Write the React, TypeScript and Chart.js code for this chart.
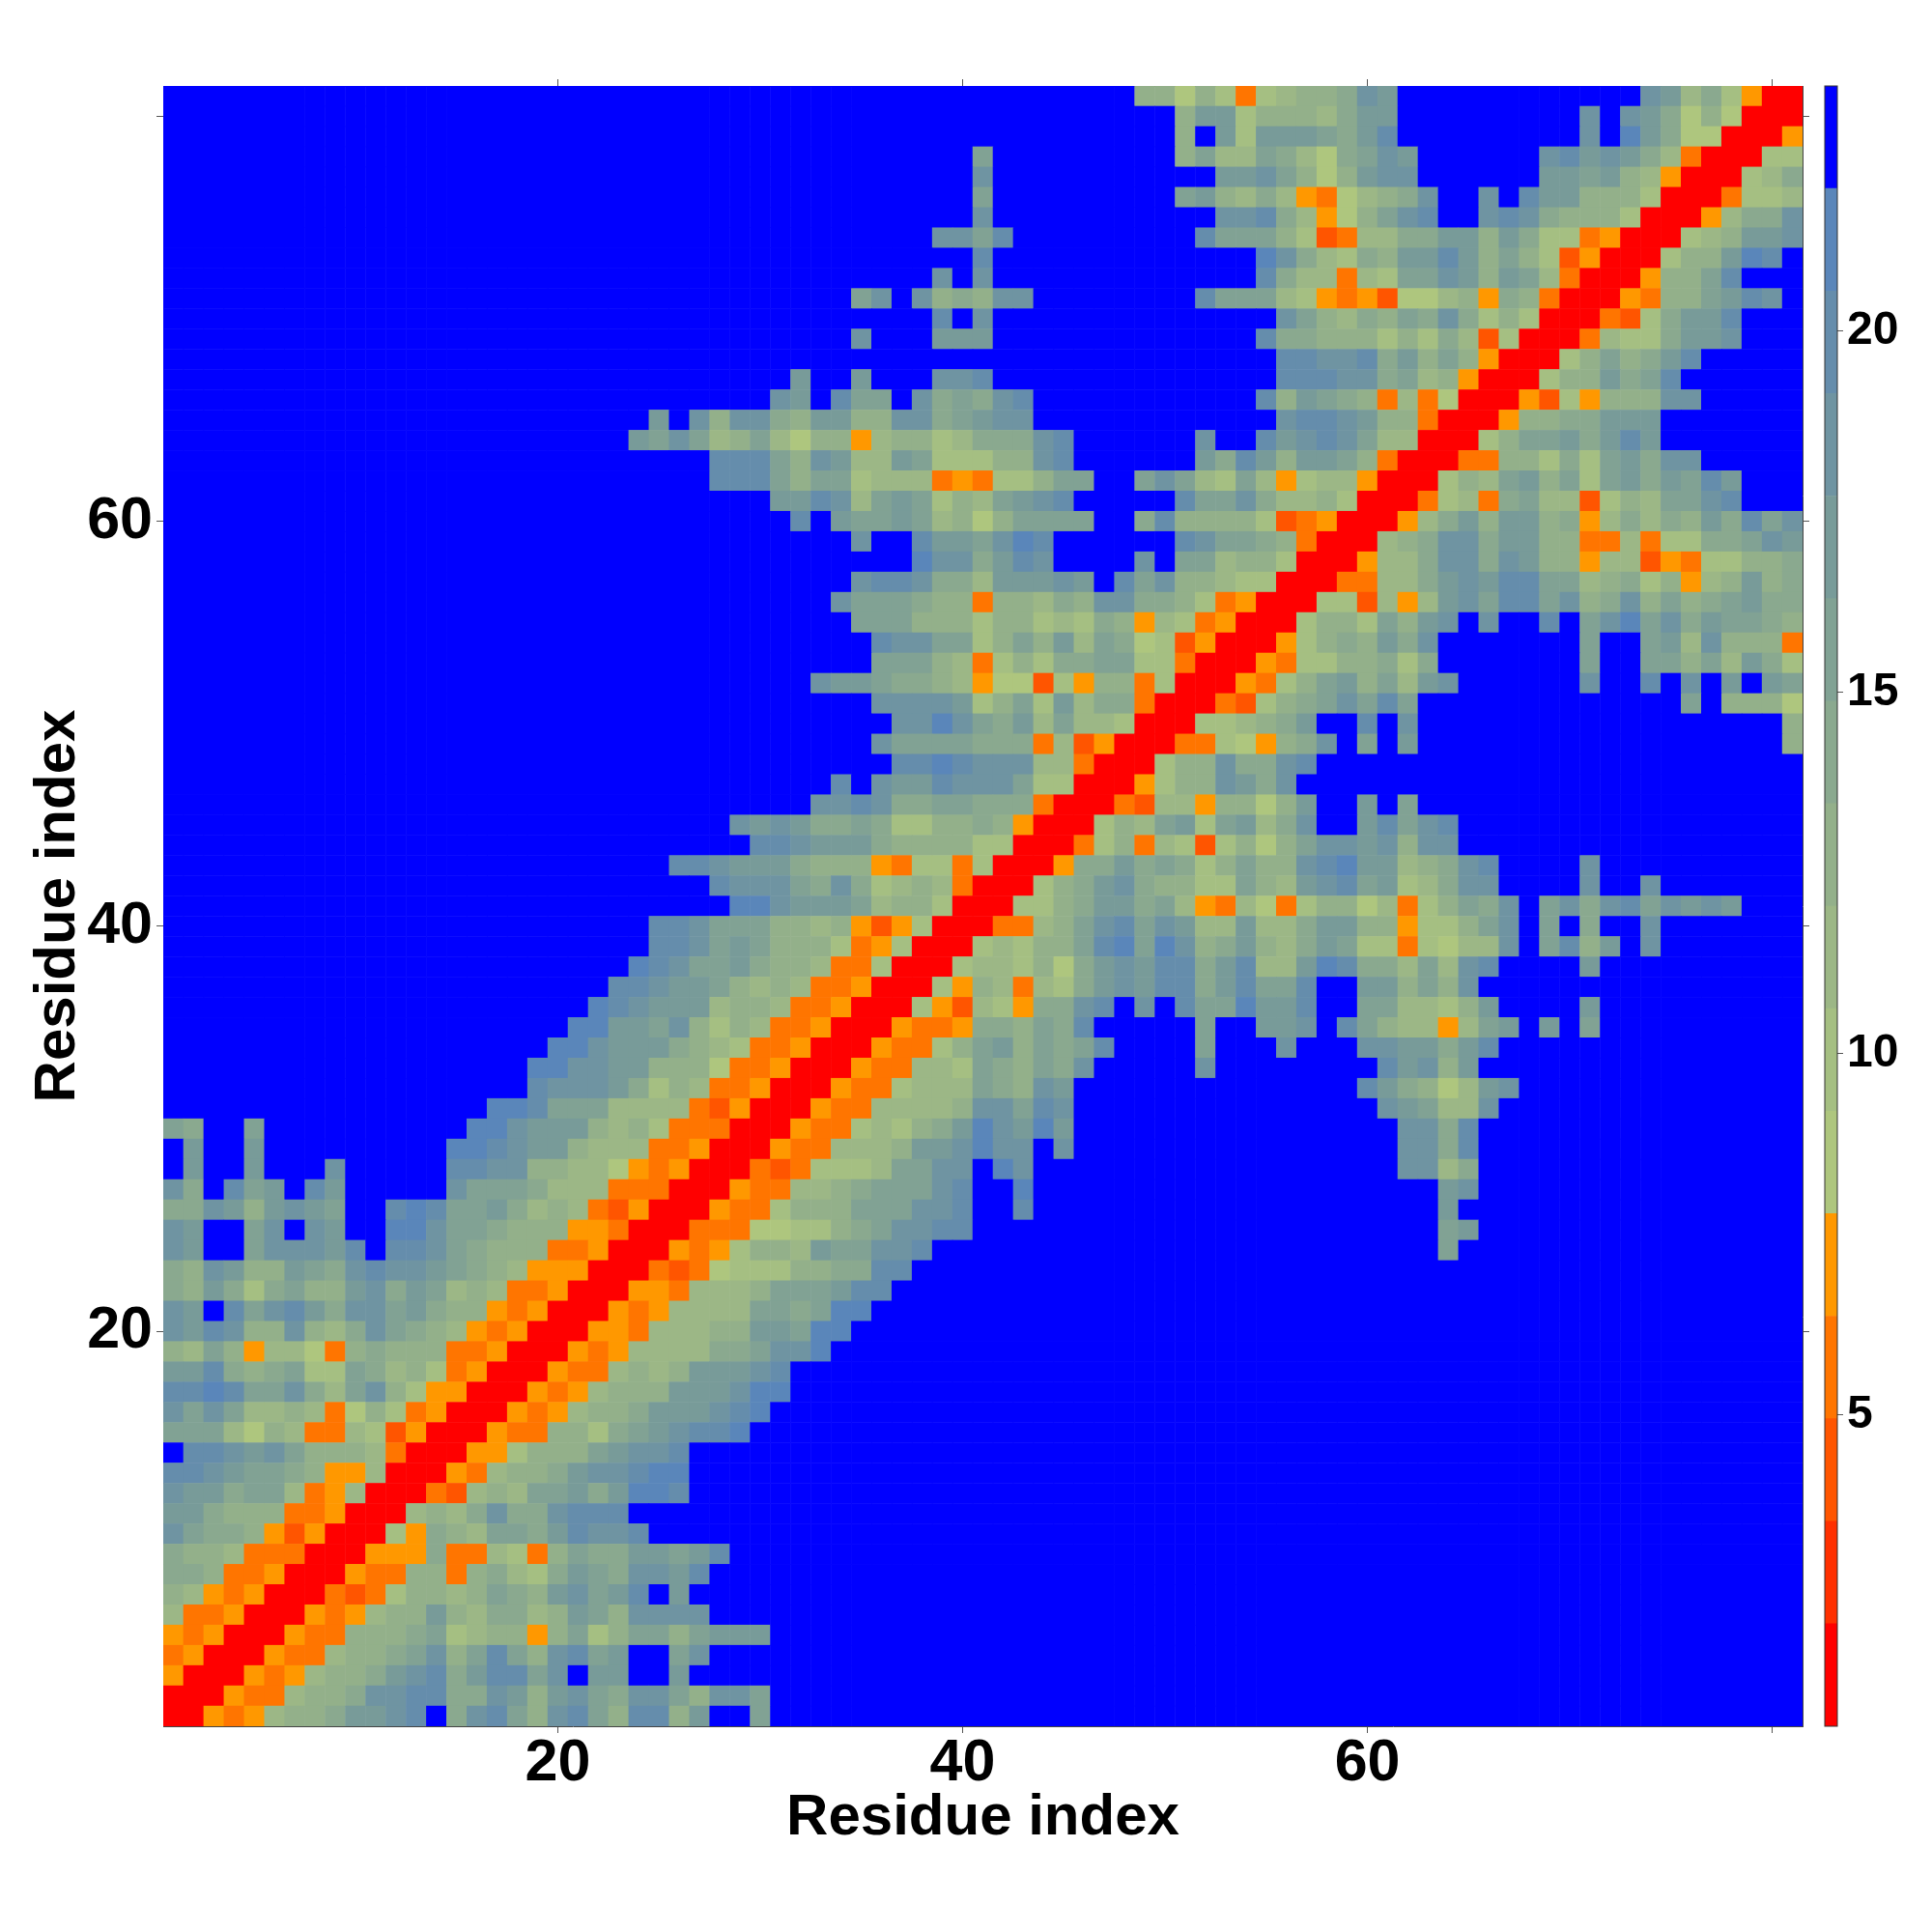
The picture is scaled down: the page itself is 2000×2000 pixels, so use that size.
import React, { useEffect, useRef } from "react";
import { Chart, registerables } from "chart.js";

Chart.register(...registerables);

// Heat-map rows from residue 81 (top) down to residue 1 (bottom).
// Each segment is "firstColumn:levels"; every column not listed is the top (blue) level.
const residueRows: string[] = [
  "49:88586367889cb 74:cb796400",
  "51:8bb688879bb 71:c 73:cb9585000",
  "51:8 53:b6bbba9bd 71:c 73:eb9550004",
  "41:a 51:8a77a9759acb 69:cdbcb97300066",
  "41:c 53:bbca858bcc 69:bbab874000679",
  "41:a 51:ab8797435789c 66:c 68:dbb88860003667",
  "41:c 53:ccd97458acd 66:cdc988860004799c",
  "39:ccad 52:daaa86237799bb8b96634000678bbc",
  "41:d 55:ec97698bbdb8a8624000688bed",
  "39:c 41:c 55:d977376aacb8ba73000488ad",
  "35:ac 38:c898cc 52:daaa764342557849830004388abdc",
  "39:d 41:c 56:ca8798a9c96860003269bbd",
  "35:c 39:bbb 55:d99888686972600037669bbc",
  "56:ddccd9b8a8400068a89bd",
  "32:b 35:b 39:ccd 56:dddcc9a784000688b9ad",
  "31:cb 34:daa 38:c9a9cd 55:d8ba9837350004264888cc",
  "25:b 27:c8cc98bb88cc9abcc 56:cddcb88300048899bbb",
  "24:baca78a7588478867999cd 52:c 55:dbcdca7700068aab9bdb",
  "28:ddda8cb77ba66688cd 52:b9db8bba830003388696ab9cc",
  "28:ddda8aa6777343668aa 49:aca76a746774000687ab8a6ab9badb",
  "31:bbdc7aba687abcd 51:daac9778600036739a772687aacd",
  "32:d 34:baaba7858aaaa 49:9d88886234000479b8bb89479798b9dac",
  "35:c 38:dbbaced 51:dcaa983000789cc9bb8833736699acbd",
  "38:ecc9bdc 49:c 51:aa78860004779cc9cb8847724366889",
  "35:cddc997bbbcb 48:dac8876600033779bcbddaa78968478b89",
  "34:caaa988388798cc998634000662747bcaddac89c8a89ab99",
  "35:aaa88868867698476340006886a8bc 66:c 69:d 71:aceac9baa98",
  "36:dccaa68a8b7a9562400046898b9c 71:a 74:ab7c8883",
  "36:aaa87368699aa663000436688969 71:a 74:aa8a7b96",
  "33:cbba998745526488360004368ab8a7bc 71:c 74:d 76:c 78:b 80:ba",
  "36:ccccb68a6b799300032689acada 76:a 78:8885",
  "37:cceca9b7a77600066789b 60:d 62:c 81:8",
  "36:caaaa99937240003365489c 60:a 62:b 81:8",
  "37:ddedccc773000688c99cd",
  "34:d 36:cbbdccca660004688cb9c",
  "33:ccdc99aa9993000327748858b 60:b 62:a",
  "29:cbcb99a96688984000687ab6ab79c 60:bdacd",
  "30:ddcbbb988886600036837626858accbc8cc",
  "26:ddcbbb9888436636000499b9a968a88cdebb789cd 71:c",
  "28:dccca9c967873000689bc98866a87bcdab679cc 71:c 74:c",
  "29:eecbbba78860006689bb9a74375368857368a9c 69:ac9cdacbcb",
  "25:ddcaaa887842460003378acdacb77b779bb884668ac 69:a 71:9 74:c",
  "25:ddcaba888634600067688adeaec89b879ba6636577c 69:ad8b 74:c",
  "24:edcaab98873360006776859bcbdd9bd77bed997a7cd 71:b",
  "23:ddcbba878733400064873769bcbdd9bdaad 60:bb8a8c",
  "22:edcbbb788733400064276499cd 49:c 51:daaebbd 60:aa7768b 71:b",
  "21:eebbac86873340004334998a9d 52:a 55:bbc 59:da87747ab 69:b 71:a",
  "20:eecbbb987633400043368ab8a9ad 52:a 56:c 60:ccbb9bd",
  "19:eeccbb8885334000433776a98a9c 52:c 61:dbc8b",
  "19:dcccb96873340004336777a98cb 60:db9857bc",
  "17:eedaaa777732400043377778ccadc 61:cba77c",
  "1:a9 5:a 16:eecbbb878633300043367689becbeb 62:cc9d",
  "2:b 5:b 15:eedcbb87773340004337778bbcecc 45:c 62:cc9d",
  "2:b 5:b 9:c 15:ddcc887754340003236667aacc 42:ec 62:cc79",
  "1:c9 4:dab 8:db 15:caaa97773330004337789aaacd 43:e 64:bc",
  "1:99cb8bcba 12:dedaab97873240004336888aaaccd 43:d 64:b",
  "1:cb 5:ac 8:cb 12:eecaa9888443000333556689accdd 64:ab",
  "1:cb 5:acccbd 12:ddca98883340004346887baaccd 64:a",
  "1:98cb88ba9cdccba98744400032356668899dd",
  "1:98b969a88bc9ba7873340004437778aaabdd",
  "1:cb 4:dacdb9ccab9884340004347777aa9aee",
  "1:cbdc88c879ca98743400044377788bbaee",
  "1:87a84775389888334000434777799acce",
  "1:bbd989a66a9786340004337878bbbcd",
  "1:ddedaac97ac86440004347888bbbcee",
  "1:caca77873586340004347889bbbcde",
  "1:aaa75873376240004338869abcdde",
  "2:ddcbca88873000446888abccd",
  "1:ddcbaa98447000437889bccdee",
  "1:cbb9aa734700032787aab9beed",
  "1:bb98883340007879c99cddd",
  "1:ca99842400064987aa9bdccd",
  "1:98873330004449337638a99bbabd",
  "1:99833400043388389769ba9ccbd",
  "1:8743400032368878a98bcabd 26:b",
  "1:7334000434788b879978ba8cccc",
  "1:4340004338889a678848a68aa8abbb",
  "1:340004337889ac8ada8cdab 26:ac",
  "1:40004347889bcd9bddac 22:bb 26:b",
  "1:0004337889ccdd99cb8bca9cca8cca",
  "1:004347889bbcd 15:9cda8cda8dd8b 30:a",
];

// Colour per level, from the lowest (red) to the highest (blue).
const levelColors: string[] = [
  "#FF0000", "#FF3000", "#FF5500", "#FF7500", "#FF9800",
  "#AEC67E", "#A5BF82", "#9CB786", "#93B08A", "#8AA98F",
  "#81A294", "#789B99", "#6F94A2", "#658DAC", "#5A86BA", "#0000FF",
];

// Colour-bar band edges and axis ticks.
const barEdges: number[] = [0.695, 2.114, 3.533, 4.951, 6.37, 7.789, 9.208, 10.626, 12.045, 13.464, 14.883, 16.301, 17.72, 19.139, 20.558, 21.976, 23.395];
const barTicks: number[] = [5, 10, 15, 20];
const axisTicks: number[] = [20, 40, 60, 80];
const axisLabels: number[] = [20, 40, 60];
const axisTitle = "Residue index";
const FONT = "'Liberation Sans', Arial, sans-serif";

function parseCells() {
  const cells: { x: number; y: number; v: number }[] = [];
  residueRows.forEach((row, k) => {
    const levels = new Array(82).fill(15);
    row.split(" ").forEach((seg) => {
      const parts = seg.split(":");
      if (parts.length !== 2) return;
      const start = Number(parts[0]);
      [...parts[1]].forEach((ch, i) => {
        const v = parseInt(ch, 16);
        if (start + i <= 81 && !Number.isNaN(v)) levels[start + i] = v;
      });
    });
    for (let c = 1; c <= 81; c++) cells.push({ x: c, y: 81 - k, v: levels[c] });
  });
  return cells;
}

function App() {
  const mainRef = useRef<HTMLCanvasElement>(null);
  const barRef = useRef<HTMLCanvasElement>(null);

  useEffect(() => {
    const setTicks = (values: number[]) => (scale: any) => {
      scale.ticks = values.map((value) => ({ value }));
    };
    const labelCb = (v: any) => (axisLabels.includes(Number(v)) ? String(v) : "");
    const blank = () => "";
    const grid = { drawOnChartArea: false, drawTicks: true, tickLength: 7, color: "#555", lineWidth: 1 };
    const border = { display: true, color: "#444", width: 1 };
    const tickFont = { family: FONT, weight: "bold" as const, size: 61 };
    const titleFont = { family: FONT, weight: "bold" as const, size: 60, lineHeight: 1.2 };

    const main = new Chart(mainRef.current!, {
      type: "scatter",
      data: {
        datasets: [
          {
            data: parseCells(),
            clip: 0,
            pointStyle: "rect",
            pointRadius: 15.2,
            pointHoverRadius: 15.2,
            pointBorderWidth: 0,
            pointBackgroundColor: (ctx: any) => levelColors[ctx.raw ? ctx.raw.v : 15],
          } as any,
        ],
      },
      options: {
        responsive: false,
        animation: false,
        devicePixelRatio: 1,
        events: [],
        layout: { padding: 0 },
        plugins: { legend: { display: false }, tooltip: { enabled: false } },
        scales: {
          x: {
            type: "linear", position: "bottom", min: 0.5, max: 81.5,
            afterBuildTicks: setTicks(axisTicks),
            afterFit: (s: any) => { s.height = 213; },
            grid, border,
            ticks: { callback: labelCb, font: tickFont, color: "#000", padding: -4, autoSkip: false, maxRotation: 0 },
            title: { display: true, text: axisTitle, color: "#000", font: titleFont, padding: { top: 0, bottom: 82 } },
          },
          xTop: {
            type: "linear", position: "top", min: 0.5, max: 81.5,
            afterBuildTicks: setTicks(axisTicks),
            afterFit: (s: any) => { s.height = 89; },
            grid, border,
            ticks: { callback: blank, autoSkip: false, maxRotation: 0 },
          },
          y: {
            type: "linear", position: "left", min: 0.5, max: 81.5,
            afterBuildTicks: setTicks(axisTicks),
            afterFit: (s: any) => { s.width = 169; },
            grid, border,
            ticks: { callback: labelCb, font: tickFont, color: "#000", padding: 4, autoSkip: false },
            title: { display: true, text: axisTitle, color: "#000", font: titleFont, padding: { top: 24, bottom: 0 } },
          },
          yRight: {
            type: "linear", position: "right", min: 0.5, max: 81.5,
            afterBuildTicks: setTicks(axisTicks),
            afterFit: (s: any) => { s.width = 134; },
            grid, border,
            ticks: { callback: blank, autoSkip: false },
          },
        },
      } as any,
    });

    const frame = {
      id: "barFrame",
      afterDraw(chart: any) {
        const { ctx, chartArea: a } = chart;
        ctx.save();
        ctx.strokeStyle = "#333";
        ctx.lineWidth = 1;
        ctx.strokeRect(a.left, a.top, a.right - a.left, a.bottom - a.top);
        ctx.restore();
      },
    };

    const bar = new Chart(barRef.current!, {
      type: "bar",
      data: {
        labels: ["levels"],
        datasets: levelColors.map((color, i) => ({
          data: [[barEdges[i], barEdges[i + 1]]],
          backgroundColor: color,
          borderWidth: 0,
          barPercentage: 1,
          categoryPercentage: 1,
          grouped: false,
        })) as any,
      },
      options: {
        responsive: false,
        animation: false,
        devicePixelRatio: 1,
        events: [],
        layout: { padding: { left: 1889, top: 89, bottom: 213 } },
        plugins: { legend: { display: false }, tooltip: { enabled: false } },
        scales: {
          x: { display: false },
          y: {
            type: "linear", position: "right", min: barEdges[0], max: barEdges[barEdges.length - 1],
            afterBuildTicks: setTicks(barTicks),
            afterFit: (s: any) => { s.width = 98; },
            grid: { drawOnChartArea: false, drawTicks: true, tickLength: 6, color: "#555", lineWidth: 1 },
            border: { display: false },
            ticks: {
              font: { family: FONT, weight: "bold" as const, size: 48 },
              color: "#000", padding: 4, autoSkip: false,
              callback: (v: any) => String(v),
            },
          },
        },
      } as any,
      plugins: [frame],
    });

    return () => {
      main.destroy();
      bar.destroy();
    };
  }, []);

  const style: React.CSSProperties = { position: "absolute", left: 0, top: 0, width: 2000, height: 2000 };
  return (
    <div style={{ position: "absolute", left: 0, top: 0, width: 2000, height: 2000, background: "#fff" }}>
      <canvas ref={mainRef} width={2000} height={2000} style={style} />
      <canvas ref={barRef} width={2000} height={2000} style={style} />
    </div>
  );
}

export default App;
